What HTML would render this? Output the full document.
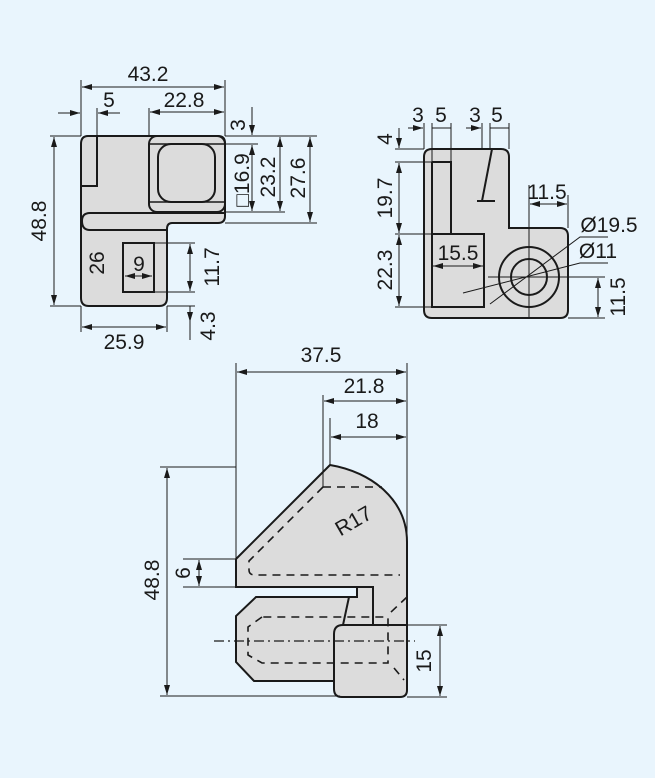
<!DOCTYPE html>
<html><head><meta charset="utf-8"><style>
html,body{margin:0;padding:0;background:#e9f5fd;}
svg{display:block;}
text{font-family:"Liberation Sans",sans-serif;font-size:21px;fill:#1a1a1a;}
</style></head><body>
<svg width="655" height="778" viewBox="0 0 655 778" xmlns="http://www.w3.org/2000/svg">
<defs>
<marker id="a" viewBox="0 0 10 6" refX="10" refY="3" markerWidth="10" markerHeight="6" orient="auto-start-reverse" markerUnits="userSpaceOnUse"><path d="M0,0 L10,3 L0,6 Z" fill="#1a1a1a"/></marker>
</defs>
<rect width="655" height="778" fill="#e9f5fd"/>
<g stroke="#1a1a1a" fill="none">
<!-- VIEW 1 -->
<path d="M88,136 L218,136 Q225,136 225,143 L225,216 Q225,223 218,223 L172,223 Q167,223 167,229 L167,298 Q167,306 159,306 L89,306 Q81,306 81,298 L81,144 Q81,136 88,136 Z" fill="#dcdcdc" stroke-width="2"/>
<path d="M225,213 L90,213 Q82,213 82,221 Q82,230 90,230 L167,230" stroke-width="2"/>
<path d="M81,186 L97,186 L97,136" stroke-width="2"/>
<rect x="149" y="136" width="76" height="76" rx="8" stroke-width="2"/>
<path d="M149,144 L225,144 M149,202 L225,202" stroke-width="1.5"/>
<rect x="158" y="144" width="57" height="58" rx="13" stroke-width="2"/>
<rect x="123" y="243" width="31" height="49" stroke-width="2"/>
<g stroke-width="1">
<path d="M81,80 V136 M225,80 V136 M97,108 V136 M149,108 V136"/>
<path d="M82,87 H224" marker-start="url(#a)" marker-end="url(#a)"/>
<path d="M58,113 H80" marker-end="url(#a)"/><path d="M120,113 H98" marker-end="url(#a)"/>
<path d="M150,112 H224" marker-start="url(#a)" marker-end="url(#a)"/>
<path d="M252,107 V135" marker-end="url(#a)"/>
<path d="M225,144 H258 M225,212 H285 M225,136 H317 M225,223 H317"/>
<path d="M252,145 V211" marker-start="url(#a)" marker-end="url(#a)"/>
<path d="M280,137 V211" marker-start="url(#a)" marker-end="url(#a)"/>
<path d="M310,137 V222" marker-start="url(#a)" marker-end="url(#a)"/>
<path d="M50,136 H81 M50,306 H81"/>
<path d="M54,137 V305" marker-start="url(#a)" marker-end="url(#a)"/>
<path d="M125,276 H152" marker-start="url(#a)" marker-end="url(#a)"/>
<path d="M154,243 H195 M154,292 H195 M167,306 H195"/>
<path d="M190,244 V291" marker-start="url(#a)" marker-end="url(#a)"/>
<path d="M190,322 V307 M190,306 V340" marker-start="url(#a)"/>
<path d="M81,306 V332 M167,306 V332"/>
<path d="M82,327 H166" marker-start="url(#a)" marker-end="url(#a)"/>
</g>
<!-- VIEW 2 -->
<path d="M432,149 L501,149 Q509,149 509,157 L509,228 L560,228 Q568,228 568,236 L568,310 Q568,318 560,318 L432,318 Q424,318 424,310 L424,157 Q424,149 432,149 Z" fill="#dcdcdc" stroke-width="2"/>
<path d="M432,162 V307 H484 V234 H432 M432,162 H451 V234" stroke-width="2"/>
<path d="M492,149 L482,201 M477,201 H495" stroke-width="2"/>
<circle cx="529" cy="277" r="30" stroke-width="2"/>
<circle cx="529" cy="277" r="18" stroke-width="2"/>
<g stroke-width="1">
<path d="M529,185 V318 M488,277 H605"/>
<path d="M490,304 L580,237 H608 M463,293 L580,263 H608"/>
<path d="M424,123 V149 M432,123 V162 M451,123 V162 M482,123 V149 M490,123 V149 M509,123 V149"/>
<path d="M408,128 H423" marker-end="url(#a)"/><path d="M432,128 H451"/>
<path d="M466,128 H481" marker-end="url(#a)"/><path d="M490,128 H509"/>
<path d="M395,149 H424 M395,162 H432 M395,234 H432 M395,307 H432"/>
<path d="M399,128 V148" marker-end="url(#a)"/>
<path d="M399,163 V233" marker-start="url(#a)" marker-end="url(#a)"/>
<path d="M399,235 V306" marker-start="url(#a)" marker-end="url(#a)"/>
<path d="M433,266 H483" marker-start="url(#a)" marker-end="url(#a)"/>
<path d="M568,195 V228"/>
<path d="M530,204 H567" marker-start="url(#a)" marker-end="url(#a)"/>
<path d="M568,318 H605"/>
<path d="M598,278 V317" marker-start="url(#a)" marker-end="url(#a)"/>
</g>
<!-- VIEW 3 -->
<path d="M236,559 L330,465 C372,472 407,500 407,542 L407,690 Q407,697 400,697 L342,697 Q334,697 334,689 L334,681 L254,681 L236,662 L236,616 L256,597 L357,597 L357,587 L236,587 Z" fill="#dcdcdc" stroke-width="2"/>
<path d="M357,587 H373 V625 M349,597 L343,625" stroke-width="2"/>
<path d="M407,625 H343 Q334,625 334,634 V689" stroke-width="2"/>
<g stroke-width="1.6" stroke-dasharray="8,6">
<path d="M323,487 H382"/>
<path d="M323,487 L249,561 V570 Q249,575 255,575 H400"/>
<path d="M262,617 L248,627 V655 L262,663 H388 V617 H262"/>
<path d="M407,597 L390,613 M394,668 L404,680"/>
</g>
<path d="M214,641 H415" stroke-width="1.2" stroke-dasharray="10,4,2,4"/>
<g stroke-width="1">
<path d="M236,363 V559 M407,363 V542 M323,395 V487 M330,418 V465"/>
<path d="M237,372 H406" marker-start="url(#a)" marker-end="url(#a)"/>
<path d="M324,401 H406" marker-start="url(#a)" marker-end="url(#a)"/>
<path d="M331,437 H406" marker-start="url(#a)" marker-end="url(#a)"/>
<path d="M160,467 H236 M160,696 H340"/>
<path d="M167,468 V695" marker-start="url(#a)" marker-end="url(#a)"/>
<path d="M183,559 H236 M183,587 H236"/>
<path d="M199,560 V586" marker-start="url(#a)" marker-end="url(#a)"/>
<path d="M373,625 H447 M407,697 H447"/>
<path d="M440,626 V696" marker-start="url(#a)" marker-end="url(#a)"/>
</g>
</g>
<!-- texts -->
<text x="148" y="81" text-anchor="middle">43.2</text>
<text x="109" y="107" text-anchor="middle">5</text>
<text x="184" y="107" text-anchor="middle">22.8</text>
<text transform="translate(245,125) rotate(-90)" text-anchor="middle">3</text>
<text transform="translate(249,180) rotate(-90)" text-anchor="middle">□16.9</text>
<text transform="translate(275,177) rotate(-90)" text-anchor="middle">23.2</text>
<text transform="translate(305,178) rotate(-90)" text-anchor="middle">27.6</text>
<text transform="translate(46,221) rotate(-90)" text-anchor="middle">48.8</text>
<text transform="translate(104,263) rotate(-90)" text-anchor="middle">26</text>
<text x="139" y="271" text-anchor="middle">9</text>
<text transform="translate(219,267) rotate(-90)" text-anchor="middle">11.7</text>
<text transform="translate(215,326) rotate(-90)" text-anchor="middle">4.3</text>
<text x="124" y="349" text-anchor="middle">25.9</text>
<text x="418" y="122" text-anchor="middle">3</text>
<text x="441" y="122" text-anchor="middle">5</text>
<text x="475" y="122" text-anchor="middle">3</text>
<text x="497" y="122" text-anchor="middle">5</text>
<text transform="translate(392,139) rotate(-90)" text-anchor="middle">4</text>
<text transform="translate(392,198) rotate(-90)" text-anchor="middle">19.7</text>
<text transform="translate(392,270) rotate(-90)" text-anchor="middle">22.3</text>
<text x="458" y="260" text-anchor="middle">15.5</text>
<text x="547" y="199" text-anchor="middle">11.5</text>
<text x="609" y="232" text-anchor="middle">Ø19.5</text>
<text x="598" y="258" text-anchor="middle">Ø11</text>
<text transform="translate(625,297) rotate(-90)" text-anchor="middle">11.5</text>
<text x="321" y="362" text-anchor="middle">37.5</text>
<text x="364" y="393" text-anchor="middle">21.8</text>
<text x="367" y="428" text-anchor="middle">18</text>
<text transform="translate(159,580) rotate(-90)" text-anchor="middle">48.8</text>
<text transform="translate(190,573) rotate(-90)" text-anchor="middle">6</text>
<text transform="translate(431,661) rotate(-90)" text-anchor="middle">15</text>
<text transform="translate(357,527) rotate(-30)" text-anchor="middle">R17</text>
</svg>
</body></html>
